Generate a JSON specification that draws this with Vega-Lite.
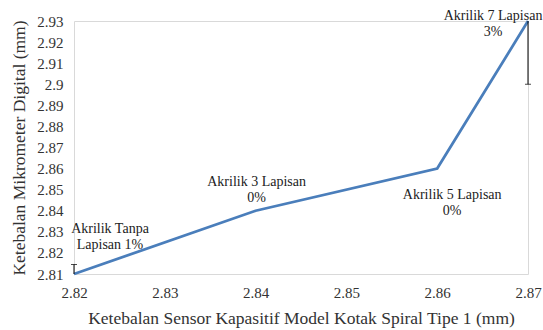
{
  "$schema": "https://vega.github.io/schema/vega-lite/v6.json",
  "width": 454,
  "height": 253,
  "autosize": {"type": "none"},
  "padding": {"left": 74, "top": 21, "right": 15, "bottom": 56},
  "config": {
    "view": {"stroke": "#d9d9d9", "strokeWidth": 1},
    "axis": {"grid": false, "domain": false, "ticks": false}
  },
  "datasets": {
    "pts": [
      {"x": 2.82, "y": 2.81, "label": "Akrilik Tanpa\nLapisan 1%", "id": 1},
      {"x": 2.84, "y": 2.84, "label": "Akrilik 3 Lapisan\n0%", "id": 2},
      {"x": 2.86, "y": 2.86, "label": "Akrilik 5 Lapisan\n0%", "id": 3},
      {"x": 2.87, "y": 2.93, "label": "Akrilik 7 Lapisan\n3%", "id": 4}
    ],
    "err": [
      {"x": 2.82, "lo": 2.81, "hi": 2.8145, "cap": 2.8145},
      {"x": 2.87, "lo": 2.90, "hi": 2.93, "cap": 2.90}
    ]
  },
  "layer": [
    {
      "data": {"name": "pts"},
      "mark": {"type": "line", "color": "#4a7ebb", "strokeWidth": 2.75},
      "encoding": {
        "x": {"field": "x", "type": "quantitative", "scale": {"domain": [2.82, 2.87], "nice": false, "zero": false},
          "axis": {"tickCount": 5, "format": ".2~f", "labelPadding": 11, "titlePadding": 9, "title": "Ketebalan Sensor Kapasitif Model Kotak Spiral Tipe 1 (mm)",
            "labelFont": "Liberation Serif", "titleFont": "Liberation Serif", "labelFontSize": 15, "titleFontSize": 17.5, "titleFontWeight": "normal", "labelColor": "#333", "titleColor": "#333", "labelOverlap": false, "labelFlush": false, "labelBound": false}},
        "y": {"field": "y", "type": "quantitative", "scale": {"domain": [2.81, 2.93], "nice": false, "zero": false},
          "axis": {"tickCount": 12, "format": ".2~f", "labelPadding": 11, "titlePadding": 8, "title": "Ketebalan Mikrometer Digital (mm)",
            "labelFont": "Liberation Serif", "titleFont": "Liberation Serif", "labelFontSize": 15, "titleFontSize": 17.5, "titleFontWeight": "normal", "labelColor": "#333", "titleColor": "#333", "labelOverlap": false, "labelFlush": false, "labelBound": false}}
      }
    },
    {
      "data": {"name": "err"},
      "mark": {"type": "rule", "color": "#000", "strokeWidth": 1},
      "encoding": {
        "x": {"field": "x", "type": "quantitative"},
        "y": {"field": "lo", "type": "quantitative"},
        "y2": {"field": "hi"}
      }
    },
    {
      "data": {"name": "err"},
      "mark": {"type": "tick", "orient": "horizontal", "color": "#000", "size": 6, "thickness": 1},
      "encoding": {
        "x": {"field": "x", "type": "quantitative"},
        "y": {"field": "cap", "type": "quantitative"}
      }
    },
    {
      "data": {"name": "pts"},
      "transform": [{"filter": "datum.id == 1"}],
      "mark": {"type": "text", "font": "Liberation Serif", "lineBreak": "\n", "fontSize": 14, "color": "#222", "baseline": "middle", "dx": 36, "dy": -45, "lineHeight": 16},
      "encoding": {"x": {"field": "x", "type": "quantitative"}, "y": {"field": "y", "type": "quantitative"}, "text": {"field": "label"}}
    },
    {
      "data": {"name": "pts"},
      "transform": [{"filter": "datum.id == 2"}],
      "mark": {"type": "text", "font": "Liberation Serif", "lineBreak": "\n", "fontSize": 14, "color": "#222", "baseline": "middle", "dx": 1, "dy": -29, "lineHeight": 16},
      "encoding": {"x": {"field": "x", "type": "quantitative"}, "y": {"field": "y", "type": "quantitative"}, "text": {"field": "label"}}
    },
    {
      "data": {"name": "pts"},
      "transform": [{"filter": "datum.id == 3"}],
      "mark": {"type": "text", "font": "Liberation Serif", "lineBreak": "\n", "fontSize": 14, "color": "#222", "baseline": "middle", "dx": 15, "dy": 26, "lineHeight": 16},
      "encoding": {"x": {"field": "x", "type": "quantitative"}, "y": {"field": "y", "type": "quantitative"}, "text": {"field": "label"}}
    },
    {
      "data": {"name": "pts"},
      "transform": [{"filter": "datum.id == 4"}],
      "mark": {"type": "text", "font": "Liberation Serif", "lineBreak": "\n", "fontSize": 14, "color": "#222", "baseline": "middle", "dx": -35, "dy": -5, "lineHeight": 16},
      "encoding": {"x": {"field": "x", "type": "quantitative"}, "y": {"field": "y", "type": "quantitative"}, "text": {"field": "label"}}
    }
  ]
}
